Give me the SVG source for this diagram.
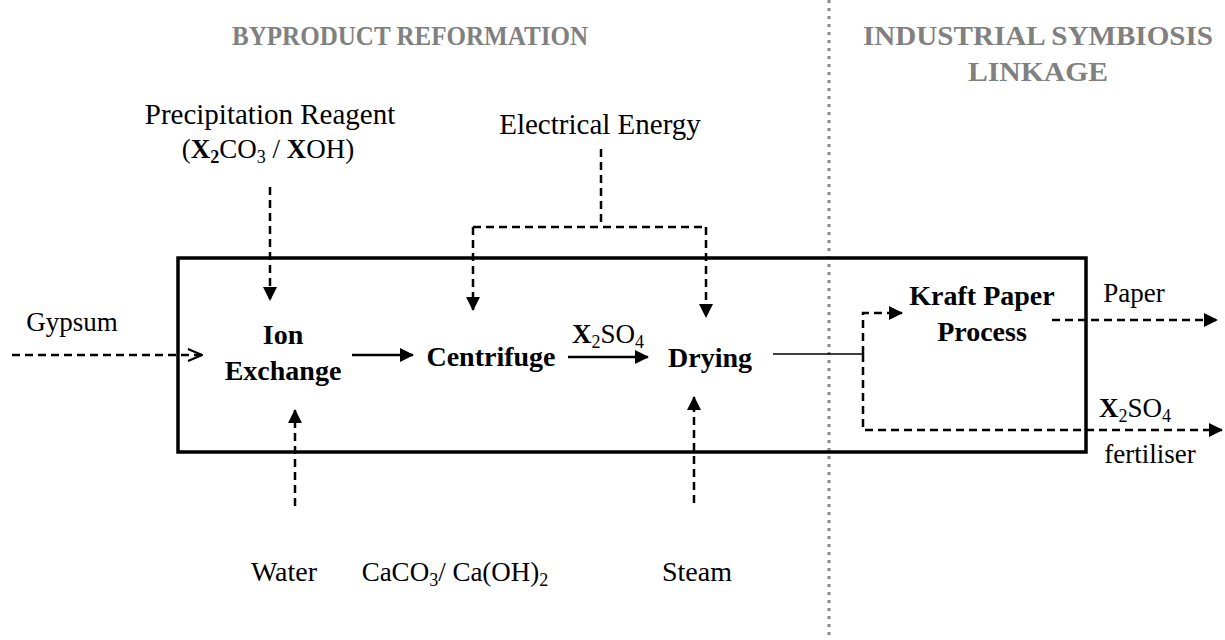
<svg xmlns="http://www.w3.org/2000/svg" width="1225" height="640" viewBox="0 0 1225 640">
<defs>
<marker id="tri" markerWidth="14" markerHeight="14" refX="13" refY="7" orient="auto" markerUnits="userSpaceOnUse">
<path d="M0,0 L14,7 L0,14 Z" fill="#000"/>
</marker>
<marker id="open" markerWidth="16" markerHeight="14" refX="15" refY="7" orient="auto" markerUnits="userSpaceOnUse">
<path d="M1,1 L15,7 L1,13" fill="none" stroke="#000" stroke-width="2"/>
</marker>
</defs>
<style>
.t{font-family:"Liberation Serif","Times New Roman",serif;font-size:27px;fill:#000}
.t29{font-size:29px}
.t28{font-size:28px}
.b{font-family:"Liberation Serif","Times New Roman",serif;font-size:28px;font-weight:bold;fill:#000}
.h{font-family:"Liberation Serif","Times New Roman",serif;font-size:27px;font-weight:bold;fill:#808080}
.d{fill:none;stroke:#000;stroke-width:2.5;stroke-dasharray:8 5}
.s{fill:none;stroke:#000;stroke-width:2.5}
.sub{font-size:18px}
</style>
<rect x="0" y="0" width="1225" height="640" fill="#fff"/>
<line x1="829" y1="0" x2="829" y2="636" stroke="#8a8a8a" stroke-width="3" stroke-dasharray="3 5"/>
<rect id="boundary" x="178" y="258" width="908" height="194" fill="none" stroke="#000" stroke-width="3.5"/>

<g id="titles">
<text class="h" x="232" y="45" textLength="356" lengthAdjust="spacingAndGlyphs">BYPRODUCT REFORMATION</text>
<text class="h" x="863" y="45" textLength="350" lengthAdjust="spacingAndGlyphs">INDUSTRIAL SYMBIOSIS</text>
<text class="h" x="968" y="81" textLength="140" lengthAdjust="spacingAndGlyphs">LINKAGE</text>
</g>

<g id="reagent">
<text class="t t29" x="270" y="124" text-anchor="middle">Precipitation Reagent</text>
<text class="t" x="268" y="158" text-anchor="middle">(<tspan font-weight="bold">X</tspan><tspan font-weight="bold" class="sub" dy="5">2</tspan><tspan dy="-5">CO</tspan><tspan class="sub" dy="5">3</tspan><tspan dy="-5"> / </tspan><tspan font-weight="bold">X</tspan>OH)</text>
</g>
<g id="electrical"><text class="t t29" x="600" y="134" text-anchor="middle">Electrical Energy</text></g>
<g id="gypsum"><text class="t" x="72" y="331" text-anchor="middle">Gypsum</text></g>
<g id="ion-exchange">
<text class="b" x="283" y="344" text-anchor="middle">Ion</text>
<text class="b" x="283" y="380" text-anchor="middle">Exchange</text>
</g>
<g id="centrifuge"><text class="b" x="491" y="366" text-anchor="middle">Centrifuge</text></g>
<g id="drying"><text class="b" x="710" y="367" text-anchor="middle">Drying</text></g>
<g id="x2so4-label"><text class="t" x="608" y="343" text-anchor="middle"><tspan font-weight="bold">X</tspan><tspan class="sub" dy="5">2</tspan><tspan dy="-5">SO</tspan><tspan class="sub" dy="5">4</tspan></text></g>
<g id="water"><text class="t t28" x="284" y="581" text-anchor="middle">Water</text></g>
<g id="caco3"><text class="t" x="455" y="581" text-anchor="middle">CaCO<tspan class="sub" dy="5">3</tspan><tspan dy="-5">/ Ca(OH)</tspan><tspan class="sub" dy="5">2</tspan></text></g>
<g id="steam"><text class="t t28" x="697" y="581" text-anchor="middle">Steam</text></g>
<g id="kraft">
<text class="b" x="982" y="305" text-anchor="middle">Kraft Paper</text>
<text class="b" x="982" y="341" text-anchor="middle">Process</text>
</g>
<g id="paper"><text class="t" x="1134" y="302" text-anchor="middle">Paper</text></g>
<g id="fertiliser">
<text class="t" x="1135" y="417" text-anchor="middle"><tspan font-weight="bold">X</tspan><tspan class="sub" dy="5">2</tspan><tspan dy="-5">SO</tspan><tspan class="sub" dy="5">4</tspan></text>
<text class="t" x="1150" y="463" text-anchor="middle">fertiliser</text>
</g>

<g id="connectors">
<path class="d" d="M270,187 V300" marker-end="url(#tri)"/>
<path class="d" d="M601,149 V227 M473,227 H706"/>
<path class="d" d="M473,227 V310" marker-end="url(#tri)"/>
<path class="d" d="M706,227 V317" marker-end="url(#tri)"/>
<path class="d" d="M12,355 H202" marker-end="url(#open)"/>
<path class="s" d="M352,355 H413" marker-end="url(#tri)"/>
<path class="s" d="M568,357 H648" marker-end="url(#tri)"/>
<path class="d" d="M295,506 V410" marker-end="url(#tri)"/>
<path class="d" d="M694,503 V397" marker-end="url(#tri)"/>
<path d="M773,354 H863" fill="none" stroke="#000" stroke-width="1.5"/>
<path class="d" d="M863,354 V313 H902" marker-end="url(#tri)"/>
<path class="d" d="M863,354 V430 H1222" marker-end="url(#tri)"/>
<path class="d" d="M1052,320 H1217" marker-end="url(#tri)"/>
</g>
</svg>
